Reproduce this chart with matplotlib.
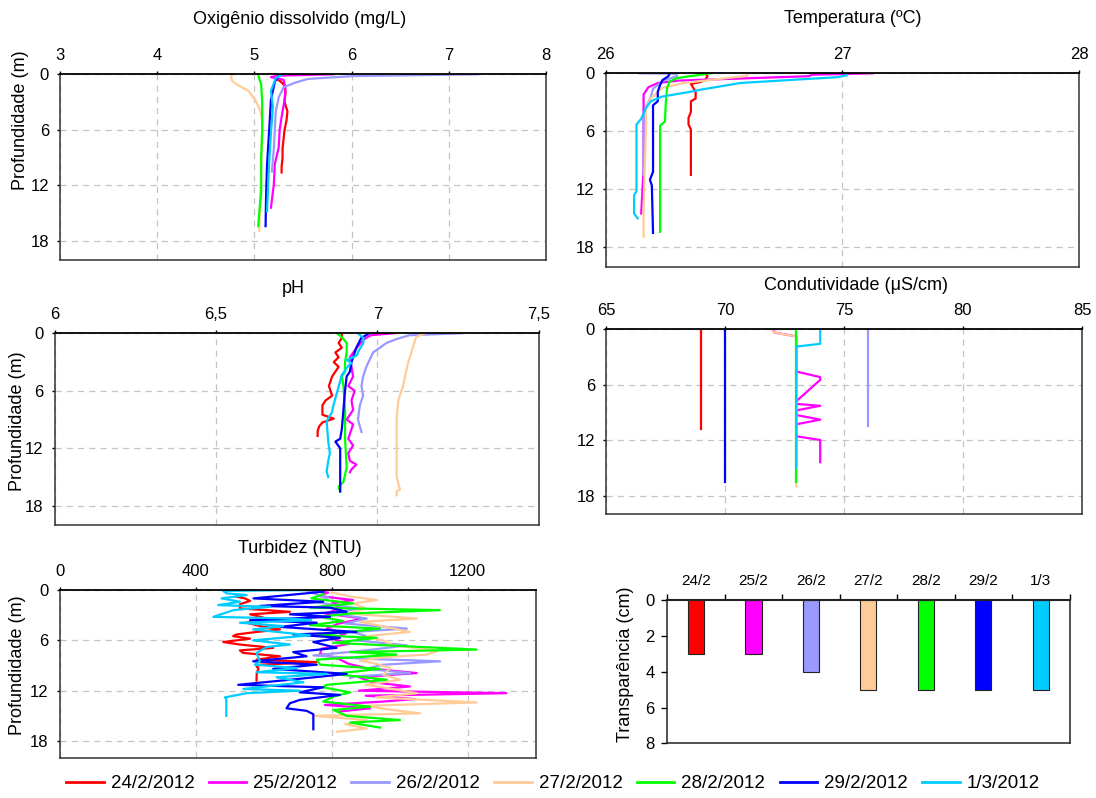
import matplotlib
matplotlib.use('Agg')
import matplotlib.pyplot as plt
from matplotlib.lines import Line2D

plt.rcParams['font.family'] = ['Liberation Sans', 'DejaVu Sans']

DATES = ['24/2/2012', '25/2/2012', '26/2/2012', '27/2/2012', '28/2/2012', '29/2/2012', '1/3/2012']
COLORS = ['#FF0000', '#FF00FF', '#9999FF', '#FFCC99', '#00FF00', '#0000FF', '#00CCFF']

# ---------------- Oxigenio dissolvido (mg/L) ----------------
od_z_24 = [0.5, 0.7, 1.2, 2.0, 3.0, 4.0, 5.0, 6.0, 7.0, 8.0, 9.0, 10.0, 10.6]
od_24 = [5.22, 5.26, 5.31, 5.32, 5.31, 5.34, 5.33, 5.31, 5.30, 5.29, 5.29, 5.28, 5.28]
od_z_25 = [0, 0.15, 0.3, 0.6, 1.5, 2.8, 4.6, 6.0, 7.9, 9.7, 11.9, 14.4]
od_25 = [5.8, 5.25, 5.17, 5.30, 5.32, 5.31, 5.28, 5.26, 5.25, 5.21, 5.20, 5.17]
od_z_26 = [0, 0.2, 0.5, 0.9, 1.4, 2.5, 4.0, 6.0, 8.0, 10.5]
od_26 = [7.3, 6.0, 5.55, 5.42, 5.30, 5.25, 5.22, 5.21, 5.20, 5.18]
od_z_27 = [0, 0.3, 0.7, 1.1, 1.8, 2.8, 3.9, 4.9, 6.4, 9.7, 13.3, 16.9]
od_27 = [4.77, 4.76, 4.77, 4.82, 4.94, 5.01, 5.06, 5.08, 5.08, 5.07, 5.06, 5.05]
od_z_28 = [0, 0.5, 1.1, 3, 6, 9, 12.6, 15, 16.4]
od_28 = [5.04, 5.05, 5.07, 5.08, 5.08, 5.07, 5.07, 5.05, 5.04]
od_z_29 = [0, 0.8, 2.8, 6.4, 9.8, 13.3, 16.4]
od_29 = [5.26, 5.21, 5.17, 5.15, 5.13, 5.12, 5.115]
od_z_01 = [0, 0.4, 1.8, 3.5, 6.4, 9.8, 14.8]
od_01 = [5.29, 5.22, 5.17, 5.19, 5.17, 5.15, 5.13]

# ---------------- Temperatura (C) ----------------
tp_z_24 = [0, 0.3, 0.7, 0.9, 1.1, 1.5, 1.9, 2.6, 2.9, 4.0, 4.6, 5.3, 5.8, 7.5, 10.5]
tp_24 = [26.42, 26.43, 26.42, 26.40, 26.36, 26.37, 26.38, 26.38, 26.36, 26.36, 26.35, 26.35, 26.36, 26.36, 26.36]
tp_z_25 = [0, 0.15, 0.3, 0.75, 1.0, 1.45, 2.2, 3, 6, 10, 14.5]
tp_25 = [27.13, 26.87, 26.86, 26.31, 26.22, 26.18, 26.16, 26.16, 26.16, 26.16, 26.15]
tp_z_26 = [0, 0.05, 0.3, 0.8, 1.6, 2.5, 3.5, 5, 8, 10.5]
tp_26 = [26.14, 26.30, 26.30, 26.24, 26.20, 26.19, 26.17, 26.16, 26.16, 26.16]
tp_z_27 = [0, 0.25, 1.0, 1.5, 2.6, 3.6, 6, 10, 14, 16.9]
tp_27 = [26.60, 26.60, 26.33, 26.24, 26.19, 26.17, 26.17, 26.165, 26.16, 26.16]
tp_z_28 = [0, 0.15, 0.5, 0.85, 1.5, 2.6, 5.0, 5.4, 10, 16.4]
tp_28 = [26.44, 26.40, 26.30, 26.27, 26.26, 26.255, 26.25, 26.23, 26.23, 26.23]
tp_z_29 = [0, 0.3, 0.7, 1.2, 1.9, 2.9, 3.3, 6, 10.2, 11, 11.6, 16.5]
tp_29 = [26.27, 26.265, 26.24, 26.23, 26.22, 26.22, 26.20, 26.20, 26.20, 26.187, 26.195, 26.20]
tp_z_01 = [0, 0.2, 0.4, 1.0, 1.7, 1.9, 2.4, 2.9, 3.6, 4.7, 5.3, 12.2, 12.6, 14.5, 15.0]
tp_01 = [27.02, 27.02, 26.98, 26.57, 26.40, 26.36, 26.24, 26.19, 26.17, 26.15, 26.13, 26.13, 26.12, 26.12, 26.135]

# ---------------- pH ----------------
ph_z_24 = [0, 0.5, 1.0, 1.5, 2.0, 2.5, 3.0, 3.5, 4.0, 4.5, 5.0, 5.5, 6.0, 6.5, 7.0, 7.5, 8.0, 8.5, 8.9, 9.3, 9.7, 10.2, 10.7]
ph_24 = [6.89, 6.89, 6.88, 6.89, 6.87, 6.88, 6.865, 6.88, 6.87, 6.86, 6.855, 6.85, 6.855, 6.86, 6.84, 6.83,
         6.83, 6.83, 6.865, 6.83, 6.82, 6.815, 6.815]
ph_z_25 = [0, 0.2, 0.6, 1.5, 2.5, 3.5, 4.5, 5.5, 6.0, 7.0, 8.0, 9.0, 9.5, 10.5, 11.0, 11.7, 12.5, 13.3, 13.7, 14.2, 14.5]
ph_25 = [7.05, 6.98, 6.96, 6.936, 6.915, 6.92, 6.925, 6.91, 6.93, 6.92, 6.925, 6.905, 6.925, 6.915, 6.91,
         6.925, 6.91, 6.915, 6.935, 6.92, 6.915]
ph_z_26 = [0, 0.2, 0.6, 1.0, 2.0, 3.5, 4.5, 5.5, 6.5, 7.5, 9.0, 10.3]
ph_26 = [7.262, 7.10, 7.06, 7.029, 6.987, 6.966, 6.956, 6.951, 6.956, 6.946, 6.94, 6.951]
ph_z_27 = [0, 0.4, 1.5, 3, 4.5, 5.5, 7, 9, 12, 15, 16.3, 16.5, 16.9]
ph_27 = [7.148, 7.12, 7.11, 7.096, 7.086, 7.08, 7.065, 7.06, 7.06, 7.06, 7.07, 7.06, 7.06]
ph_z_28 = [0, 0.4, 1.0, 2, 3, 4, 4.5, 5.5, 8, 11, 14, 15.5, 16.0, 16.5]
ph_28 = [6.875, 6.89, 6.905, 6.905, 6.90, 6.90, 6.89, 6.895, 6.90, 6.90, 6.905, 6.895, 6.88, 6.885]
ph_z_29 = [0, 0.5, 1.5, 3, 4, 4.5, 6, 8, 10, 11, 11.3, 12, 14, 16.5]
ph_29 = [6.975, 6.95, 6.935, 6.92, 6.915, 6.905, 6.90, 6.895, 6.89, 6.885, 6.87, 6.885, 6.885, 6.885]
ph_z_01 = [0, 0.5, 1.0, 1.9, 2.3, 2.8, 3.1, 3.4, 4.35, 5.6, 7.5, 8.2, 9.2, 11.3, 12.5, 13.3, 14.4, 15.0]
ph_01 = [6.94, 6.957, 6.957, 6.941, 6.937, 6.905, 6.92, 6.91, 6.89, 6.88, 6.864, 6.86, 6.843, 6.848,
         6.853, 6.848, 6.843, 6.848]

# ---------------- Condutividade (uS/cm) ----------------
cd_z_24 = [0, 2, 4, 6, 8, 10, 10.8]
cd_24 = [69, 69, 69, 69, 69, 69, 69]
cd_z_25 = [0, 0.4, 0.8, 4.6, 5.2, 5.5, 7.8, 8.1, 8.3, 8.8, 9.3, 9.8, 10.3, 11.6, 12.0, 14.4]
cd_25 = [72, 72.1, 73, 73, 74, 74, 73, 73, 74, 73, 73, 74, 73, 73, 74, 74]
cd_z_26 = [0, 2, 4, 6, 8, 10.5]
cd_26 = [76, 76, 76, 76, 76, 76]
cd_z_27 = [0, 0.3, 0.5, 0.8, 17]
cd_27 = [72, 72, 72.3, 73, 73]
cd_z_28 = [0, 4, 8, 12, 16.5]
cd_28 = [73, 73, 73, 73, 73]
cd_z_29 = [0, 4, 8, 12, 16.5]
cd_29 = [70, 70, 70, 70, 70]
cd_z_01 = [0, 1.4, 1.6, 1.9, 15]
cd_01 = [74, 74, 74, 73, 73]

# ---------------- Turbidez (NTU) ----------------
tb_z_24 = [0.8, 1.0, 1.3, 1.7, 2.2, 2.4, 2.6, 2.9, 3.3, 3.9, 4.3, 4.7, 5.0, 5.3, 5.5, 5.8, 6.2, 6.5, 6.9,
           7.2, 7.5, 7.9, 8.3, 8.6, 8.9, 9.1, 9.4, 9.8, 10.3, 10.8]
tb_24 = [520, 545, 560, 530, 530, 609, 677, 560, 600, 550, 589, 648, 579, 520, 510, 560, 481, 530, 628,
         530, 540, 648, 579, 756, 590, 579, 585, 580, 579, 579]
tb_z_25 = [0, 0.3, 0.7, 1.2, 1.6, 2.2, 2.8, 3.4, 4.0, 4.6, 5.2, 5.8, 6.4, 7.0, 7.6, 8.2, 8.8, 9.3, 9.9,
           10.4, 11.0, 11.5, 12.0, 12.3, 12.6, 13.0, 13.3, 13.7, 14.1, 14.5]
tb_25 = [720, 790, 760, 863, 800, 830, 780, 893, 820, 785, 840, 800, 854, 770, 766, 820, 850, 900, 1050,
         880, 920, 1030, 880, 1314, 900, 1045, 950, 780, 913, 820]
tb_z_26 = [0, 0.4, 0.9, 1.5, 2.2, 2.8, 3.4, 4.0, 4.6, 5.0, 5.5, 6.0, 6.6, 7.2, 7.8, 8.2, 8.5, 8.9, 9.4,
           9.9, 10.3, 10.5]
tb_26 = [730, 746, 790, 760, 880, 800, 903, 840, 1021, 860, 903, 870, 1021, 900, 746, 900, 1119, 952, 900,
         1030, 870, 854]
tb_z_27 = [0.3, 0.8, 1.2, 1.6, 2.2, 2.8, 3.4, 3.8, 4.4, 5.0, 5.5, 6.0, 6.6, 7.0, 7.3, 7.7, 8.0, 8.4, 8.8,
           9.3, 10.1, 10.7, 11.3, 11.8, 12.3, 12.8, 13.4, 13.8, 14.2, 14.7, 15.0, 15.5, 16.0, 16.5, 16.9]
tb_27 = [800, 860, 933, 863, 900, 850, 1050, 883, 960, 1030, 903, 950, 980, 1070, 1109, 1080, 960, 883, 930,
         972, 952, 1001, 900, 980, 1050, 930, 1227, 903, 960, 1060, 746, 903, 840, 903, 815]
tb_z_28 = [0, 0.5, 1.0, 1.6, 2.1, 2.4, 2.8, 3.2, 3.7, 4.2, 4.6, 5.4, 5.7, 6.3, 7.1, 7.4, 7.7, 8.3, 8.9,
           9.4, 10.0, 10.7, 11.3, 11.6, 12.2, 12.7, 13.3, 13.9, 14.3, 15.0, 15.5, 15.8, 16.4]
tb_28 = [766, 776, 740, 863, 736, 1118, 854, 766, 834, 736, 942, 756, 932, 805, 1226, 854, 991, 756, 766,
         942, 805, 962, 785, 775, 854, 805, 775, 913, 805, 844, 1001, 854, 942]
tb_z_29 = [0.2, 1.0, 1.4, 1.9, 2.1, 2.6, 2.9, 3.2, 3.6, 3.9, 4.4, 5.0, 5.3, 5.7, 6.2, 6.9, 7.4, 7.9, 8.5,
           8.9, 9.4, 10.0, 10.5, 11.3, 11.6, 12.2, 12.5, 13.1, 13.5, 14.1, 14.4, 14.8, 15.4, 16.6]
tb_29 = [775, 570, 775, 589, 795, 844, 677, 795, 560, 756, 648, 873, 687, 824, 746, 814, 687, 726, 569,
         756, 628, 844, 726, 525, 775, 706, 824, 706, 677, 667, 726, 746, 746, 746]
tb_z_01 = [0, 0.1, 0.4, 0.6, 1.0, 1.4, 1.8, 2.0, 2.4, 3.2, 3.4, 3.6, 3.9, 4.3, 4.7, 5.4, 6.0, 6.5, 6.8,
           7.5, 8.5, 8.9, 9.3, 9.8, 10.0, 10.4, 11.0, 11.4, 11.8, 12.0, 12.3, 12.8, 13.0, 15.0]
tb_01 = [775, 480, 491, 550, 476, 530, 466, 619, 511, 452, 677, 740, 530, 657, 569, 736, 569, 677, 608,
         579, 589, 574, 697, 579, 785, 638, 717, 628, 540, 706, 550, 486, 490, 490]

# ---------------- Transparencia (cm) ----------------
tr_labels = ['24/2', '25/2', '26/2', '27/2', '28/2', '29/2', '1/3']
tr_values = [3, 3, 4, 5, 5, 5, 5]

OD = [(od_z_24, od_24), (od_z_25, od_25), (od_z_26, od_26), (od_z_27, od_27),
      (od_z_28, od_28), (od_z_29, od_29), (od_z_01, od_01)]
TP = [(tp_z_24, tp_24), (tp_z_25, tp_25), (tp_z_26, tp_26), (tp_z_27, tp_27),
      (tp_z_28, tp_28), (tp_z_29, tp_29), (tp_z_01, tp_01)]
PH = [(ph_z_24, ph_24), (ph_z_25, ph_25), (ph_z_26, ph_26), (ph_z_27, ph_27),
      (ph_z_28, ph_28), (ph_z_29, ph_29), (ph_z_01, ph_01)]
CD = [(cd_z_24, cd_24), (cd_z_25, cd_25), (cd_z_26, cd_26), (cd_z_27, cd_27),
      (cd_z_28, cd_28), (cd_z_29, cd_29), (cd_z_01, cd_01)]
TB = [(tb_z_24, tb_24), (tb_z_25, tb_25), (tb_z_26, tb_26), (tb_z_27, tb_27),
      (tb_z_28, tb_28), (tb_z_29, tb_29), (tb_z_01, tb_01)]

W, H = 1096, 798
fig = plt.figure(figsize=(W / 100, H / 100), dpi=100)


def add_ax(l, r, t, b):
    return fig.add_axes([l / W, 1 - b / H, (r - l) / W, (b - t) / H])


def depth_panel(ax, data, xlim, xticks, xlabels):
    for (z, v), c in zip(data, COLORS):
        ax.plot(v, z, color=c, lw=1.6, solid_joinstyle='round')
    ax.set_xlim(*xlim)
    ax.set_ylim(20, 0)
    ax.xaxis.tick_top()
    ax.set_xticks(xticks)
    ax.set_xticklabels(xlabels)
    ax.set_yticks([0, 6, 12, 18])
    ax.tick_params(axis='both', labelsize=12, length=2.5, width=1, direction='out', pad=5.5)
    ax.tick_params(axis='x', top=True, bottom=False)
    ax.grid(True, ls=(0, (5, 4)), color='#c4c4c4', lw=0.9)
    ax.set_axisbelow(True)
    for s in ['left', 'right', 'bottom']:
        ax.spines[s].set_color('#333333')
        ax.spines[s].set_linewidth(1.1)
    ax.spines['top'].set_color('black')
    ax.spines['top'].set_linewidth(1.3)


ax1 = add_ax(60, 546, 74.3, 259.5)
depth_panel(ax1, OD, (3, 8), [3, 4, 5, 6, 7, 8], ['3', '4', '5', '6', '7', '8'])
ax2 = add_ax(605.7, 1079, 73.3, 266.7)
depth_panel(ax2, TP, (26, 28), [26, 27, 28], ['26', '27', '28'])
ax3 = add_ax(54.7, 538.6, 333.3, 525)
depth_panel(ax3, PH, (6, 7.5), [6, 6.5, 7, 7.5], ['6', '6,5', '7', '7,5'])
ax4 = add_ax(606, 1082, 329, 514)
depth_panel(ax4, CD, (65, 85), [65, 70, 75, 80, 85], ['65', '70', '75', '80', '85'])
ax5 = add_ax(59.7, 535.7, 590, 757.8)
depth_panel(ax5, TB, (0, 1400), [0, 400, 800, 1200], ['0', '400', '800', '1200'])

# Transparency bar chart
ax6 = add_ax(667.3, 1069.5, 600.4, 743.4)
xs = list(range(len(tr_values)))
ax6.bar(xs, tr_values, width=0.28, color=COLORS, edgecolor='#222222', linewidth=0.8)
ax6.set_xlim(-0.5, len(tr_values) - 0.5)
ax6.set_ylim(8, 0)
ax6.xaxis.tick_top()
ax6.set_xticks(xs)
ax6.set_xticklabels(tr_labels)
ax6.set_xticks([i - 0.5 for i in range(len(tr_values) + 1)], minor=True)
ax6.tick_params(axis='x', which='major', length=0, labelsize=11, pad=9)
ax6.tick_params(axis='x', which='minor', length=4, width=1, direction='out', top=True, bottom=False)
ax6.set_yticks([0, 2, 4, 6, 8])
ax6.tick_params(axis='y', labelsize=12, length=4, width=1, direction='out', pad=5)
for s in ax6.spines.values():
    s.set_color('#222222')
    s.set_linewidth(1.1)
ax6.spines['top'].set_linewidth(1.5)

# Titles and axis labels (figure coordinates in pixels)
def ftext(x, y, s, **kw):
    fig.text(x / W, 1 - y / H, s, ha='center', va='center', **kw)

ftext(300, 19.5, 'Oxigênio dissolvido (mg/L)', fontsize=13)
ftext(853, 18.6, 'Temperatura (ºC)', fontsize=13)
ftext(293, 288.3, 'pH', fontsize=13)
ftext(856, 285, 'Condutividade (μS/cm)', fontsize=13)
ftext(300, 548.2, 'Turbidez (NTU)', fontsize=13)

ftext(21, 119.8, 'Profundidade (m)', fontsize=13, rotation=90)
ftext(17.5, 421.5, 'Profundidade (m)', fontsize=13, rotation=90)
ftext(17.5, 665, 'Profundidade (m)', fontsize=13, rotation=90)
ftext(625, 664, 'Transparência (cm)', fontsize=13, rotation=90)

handles = [Line2D([0], [0], color=c, lw=2) for c in COLORS]
fig.legend(handles, DATES, loc='center', bbox_to_anchor=(553 / W, 1 - 783.6 / H), ncol=7,
           frameon=False, fontsize=13.5, handlelength=2.0, handletextpad=0.37,
           columnspacing=0.77, borderpad=0, borderaxespad=0)

fig.savefig('out.png', dpi=100)
